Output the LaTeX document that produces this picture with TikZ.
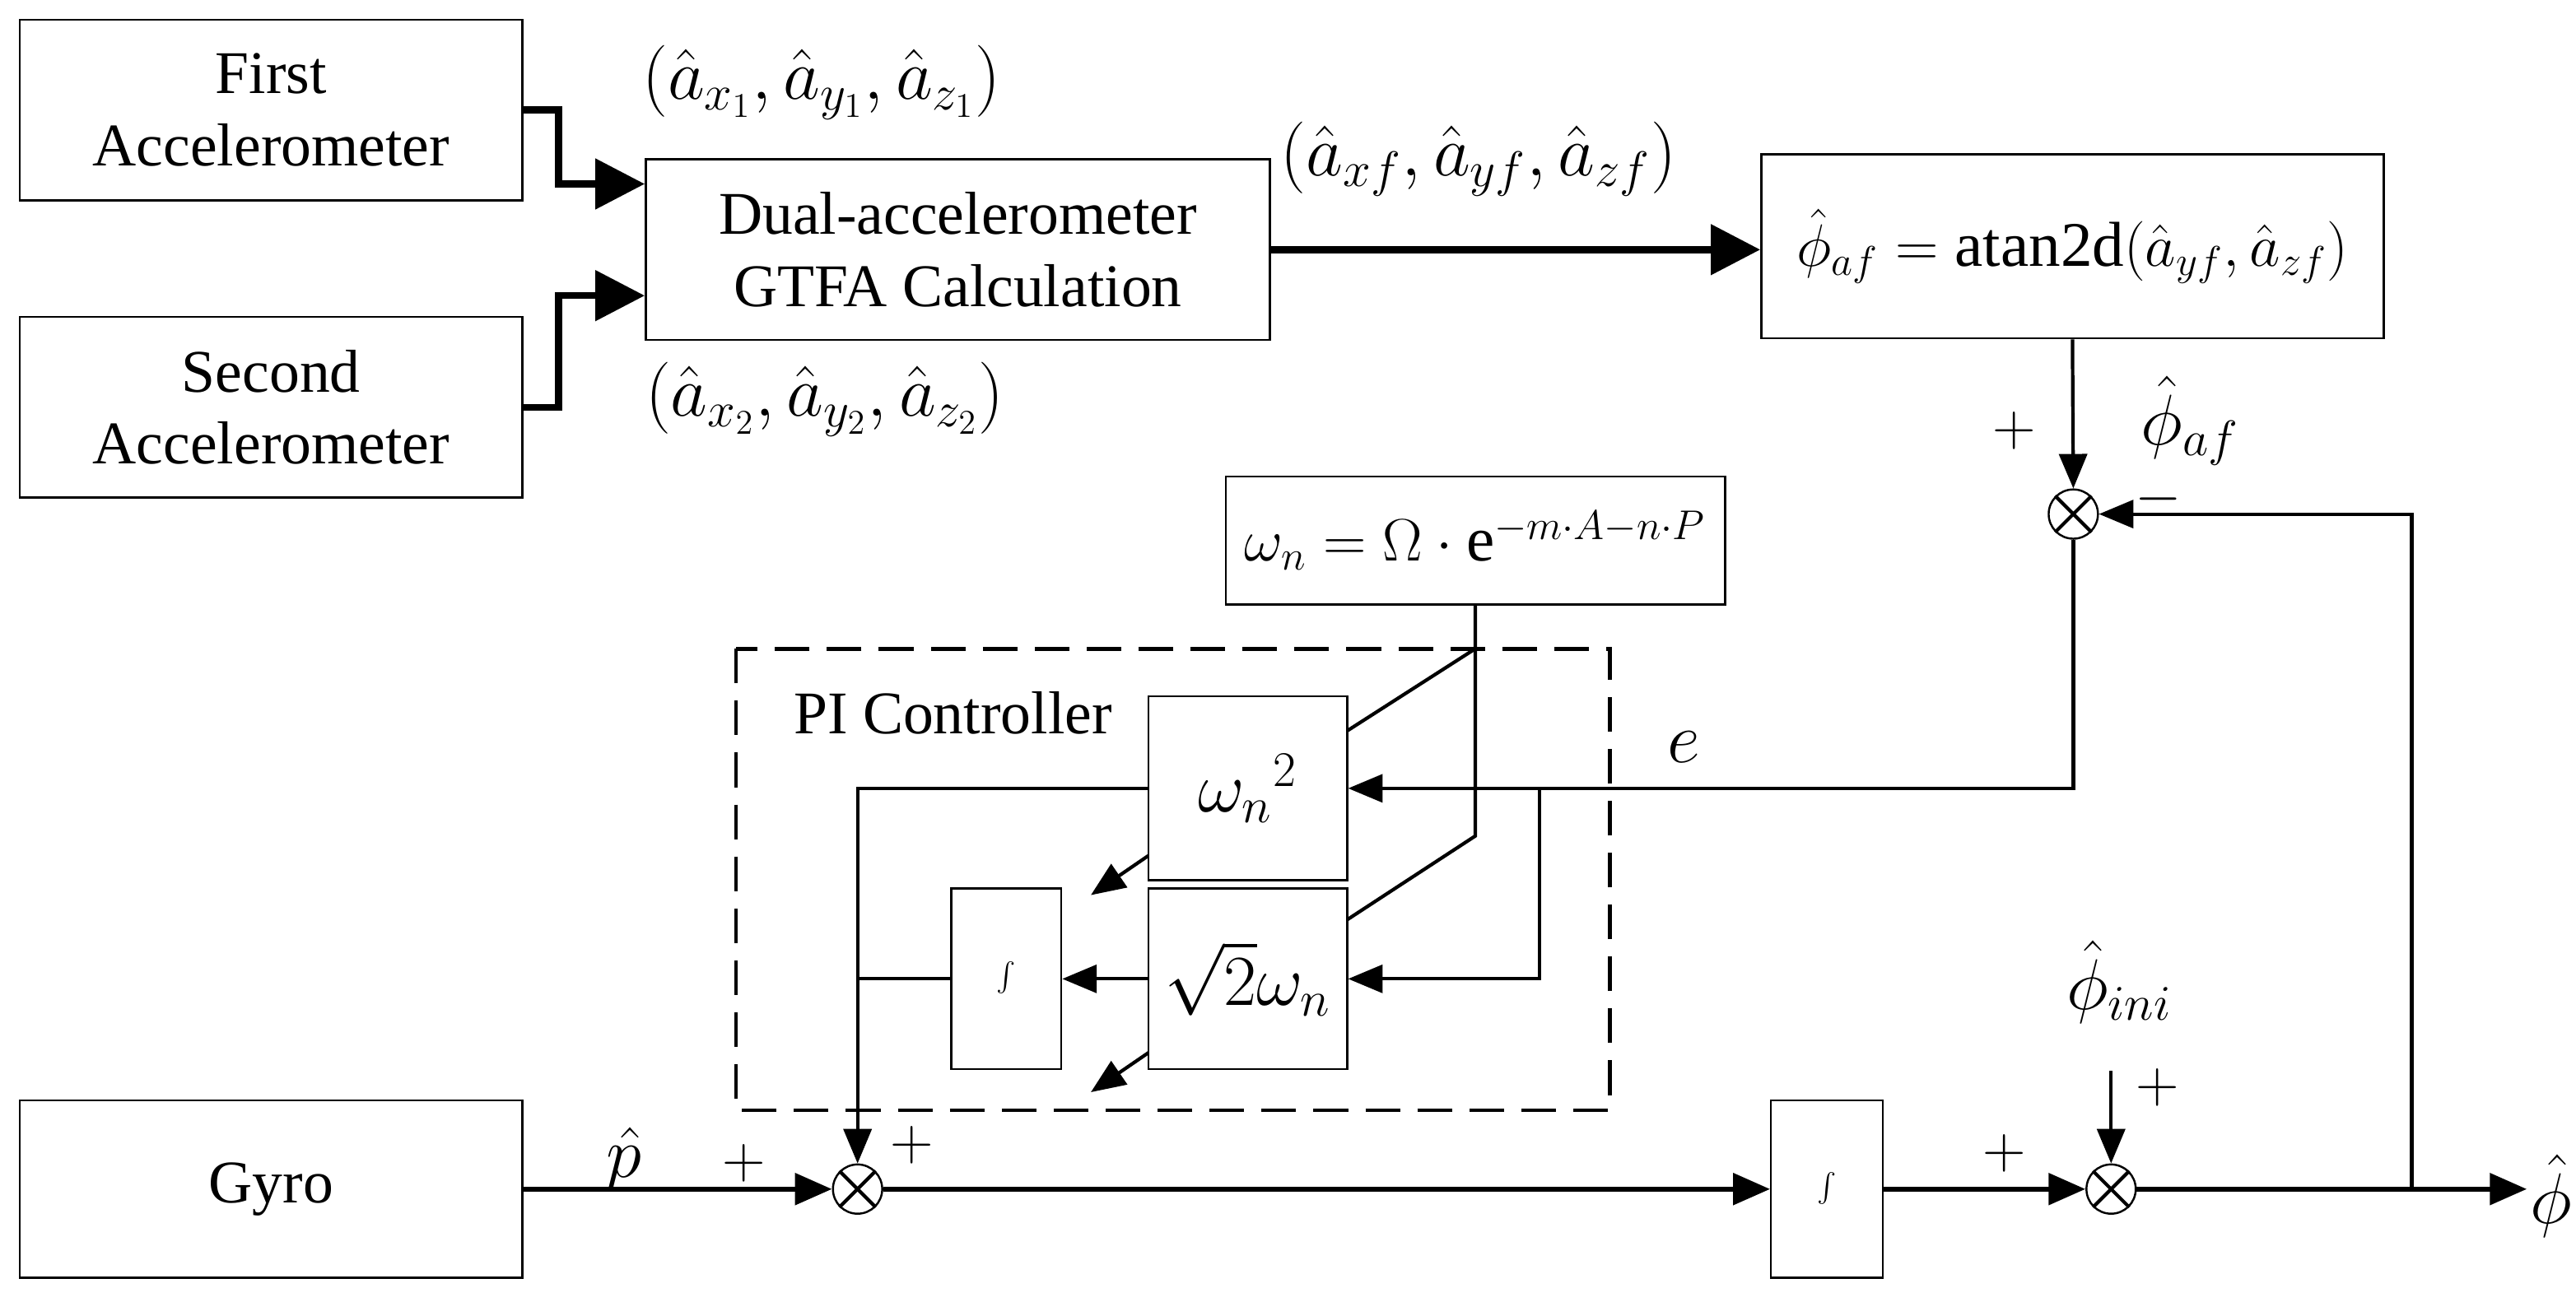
\documentclass[tikz,border=0pt]{standalone}
\usepackage{fontspec}
\setmainfont{Liberation Serif}
\usetikzlibrary{arrows.meta,calc}
\begin{document}
\begin{tikzpicture}[x=0.02cm,y=-0.02cm,
  box/.style={draw,line width=0.7pt,inner sep=0pt,align=center,font=\fontsize{21}{25}\selectfont},
  sum/.style={draw,circle,line width=0.7pt,minimum size=0.6cm,inner sep=0pt},
  big/.style={line width=2.4pt,-{Triangle[length=0.6cm,width=0.6cm]}},
  main/.style={line width=1.7pt,-{Triangle[length=0.45cm,width=0.38cm]}},
  arr/.style={line width=1.2pt,-{Triangle[length=0.42cm,width=0.34cm]}},
  ln/.style={line width=1.2pt},
  lbl/.style={font=\fontsize{22}{26}\selectfont,inner sep=0pt},
  mlbl/.style={font=\fontsize{25}{30}\selectfont,inner sep=0pt},
  intbox/.style={box,font=\fontsize{40}{44}\selectfont}]
\useasboundingbox (0,0) rectangle (1568,801);
% blocks
\node[box,minimum width=6.12cm,minimum height=2.2cm] (first) at (165,67) {First\\Accelerometer};
\node[box,minimum width=6.12cm,minimum height=2.2cm] (second) at (165,248) {Second\\Accelerometer};
\node[box,minimum width=7.6cm,minimum height=2.2cm] (dual) at (583,152) {Dual-accelerometer\\GTFA Calculation};
\node[box,minimum width=7.58cm,minimum height=2.24cm,font=\fontsize{22}{26}\selectfont] (atan) at (1261.5,150) {$\hat\phi_{af}=\mathrm{atan2d}(\hat a_{yf},\hat a_{zf})$};
\node[box,minimum width=6.08cm,minimum height=1.56cm,font=\fontsize{22}{26}\selectfont] (om) at (898,329) {$\omega_n=\Omega\cdot\mathrm{e}^{-m\cdot A-n\cdot P}$};
\node[box,minimum width=2.42cm,minimum height=2.24cm,font=\fontsize{26}{30}\selectfont] (w2) at (759.5,480) {$\omega_n{}^2$};
\node[box,minimum width=2.42cm,minimum height=2.2cm,font=\fontsize{26}{30}\selectfont] (s2) at (759.5,596) {$\sqrt{2}\omega_n$};
\node[intbox,minimum width=1.34cm,minimum height=2.2cm] (int1) at (612.5,596) {$\int$};
\node[box,minimum width=6.12cm,minimum height=2.16cm] (gyro) at (165,724) {Gyro};
\node[intbox,minimum width=1.36cm,minimum height=2.16cm] (int2) at (1112,724) {$\int$};
\draw[dashed,line width=1.3pt,dash pattern=on 12pt off 6pt] (448,395) rectangle (980,676);
\node[lbl,font=\fontsize{21}{25}\selectfont] (pi) at (580,434) {PI Controller};
% junctions
\foreach \n/\p in {J0/{(1262,313)},J1/{(522,724)},J2/{(1285,724)}}{
  \node[sum] (\n) at \p {};
  \draw[line width=1.2pt] (\n.north west) -- (\n.south east) (\n.north east) -- (\n.south west);
}
% coordinates
\coordinate (k1) at (340,112);
\coordinate (k2) at (340,180);
\coordinate (br) at (937,480);
\coordinate (ot) at (898,395);
\coordinate (ob) at (898,509);
\coordinate (c1) at (820,445);
\coordinate (c2) at (820,560);
\coordinate (d1) at (699,521);
\coordinate (d1e) at (664,545);
\coordinate (d2) at (699,641);
\coordinate (d2e) at (664,665);
\coordinate (tap) at (1468,724);
\coordinate (out) at (1538,724);
\coordinate (ini) at (1285,652);
% connectors
\draw[big] (first.east) -| (k1) -- (k1 -| dual.west);
\draw[big] (second.east) -| (k2) -- (k2 -| dual.west);
\draw[big] (dual.east) -- (dual.east -| atan.west);
\draw[arr] (atan.south) -- (J0.north);
\draw[arr] (J0.south) |- (w2.east);
\draw[arr] (br) |- (s2.east);
\draw[ln] (om.south) -- (ob) -- (c2);
\draw[ln] (ot) -- (c1);
\draw[arr] (w2.west) -| (J1.north);
\draw[ln] (int1.west) -- (int1.west -| J1.north);
\draw[arr] (s2.west) -- (int1.east);
\draw[arr] (d1) -- (d1e);
\draw[arr] (d2) -- (d2e);
\draw[main] (gyro.east) -- (J1.west);
\draw[main] (J1.east) -- (int2.west);
\draw[main] (int2.east) -- (J2.west);
\draw[main] (J2.east) -- (out);
\draw[arr] (tap) |- (J0.east);
\draw[arr] (ini) -- (J2.north);
% labels
\node[mlbl] (l1) at (500,50) {$(\hat a_{x_1},\hat a_{y_1},\hat a_{z_1})$};
\node[mlbl] (l2) at (502,243) {$(\hat a_{x_2},\hat a_{y_2},\hat a_{z_2})$};
\node[mlbl] (l3) at (900,97) {$(\hat a_{xf},\hat a_{yf},\hat a_{zf})$};
\node[mlbl] (l4) at (1333,256) {$\hat\phi_{af}$};
\node[lbl] (l5) at (1226,262) {$+$};
\node[lbl] (l6) at (1314,304) {$-$};
\node[mlbl] (l7) at (1025,455) {$e$};
\node[mlbl] (l8) at (380,706) {$\hat p$};
\node[lbl] (l9) at (453,708) {$+$};
\node[lbl] (l10) at (555,697) {$+$};
\node[lbl] (l11) at (1220,702) {$+$};
\node[mlbl] (l12) at (1290,598) {$\hat\phi_{ini}$};
\node[lbl] (l13) at (1313,662) {$+$};
\node[mlbl] (l14) at (1553,728) {$\hat\phi$};
\end{tikzpicture}
\end{document}
